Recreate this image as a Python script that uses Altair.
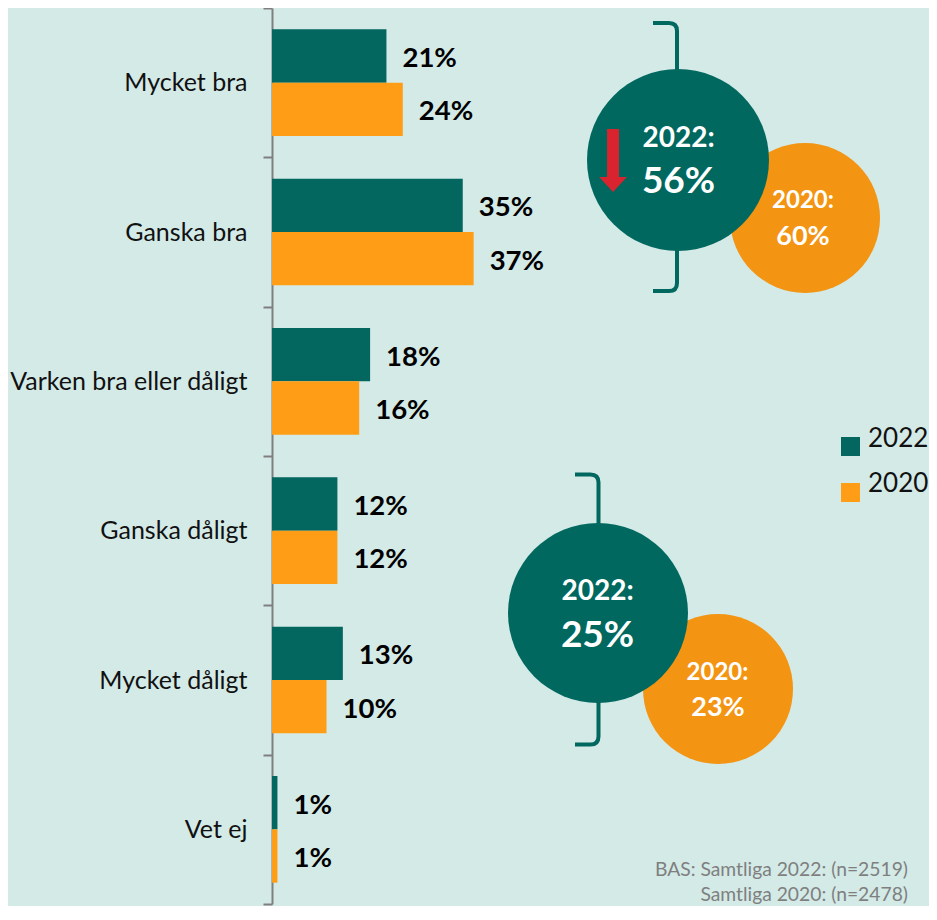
import altair as alt
import pandas as pd

# ---------------- data ----------------
categories = ["Mycket bra", "Ganska bra", "Varken bra eller dåligt",
              "Ganska dåligt", "Mycket dåligt", "Vet ej"]
years = ["2022", "2020"]
values_2022 = [21, 35, 18, 12, 13, 1]
values_2020 = [24, 37, 16, 12, 10, 1]
good_share = [56, 60]      # Mycket + Ganska bra: 2022, 2020
bad_share = [25, 23]       # Ganska + Mycket dåligt: 2022, 2020
footnote_lines = ["BAS: Samtliga 2022: (n=2519)", "Samtliga 2020: (n=2478)"]

# ---------------- styles ----------------
TEAL = "#03665f"
TEAL_C = "#00685f"
ORANGE = "#ff9e16"
ORANGE_C = "#f39412"
RED = "#d9232e"
BG = "#d3eae7"
FONT = "Lato"

rows = []
for c, a, b in zip(categories, values_2022, values_2020):
    rows.append({"cat": c, "year": years[0], "val": a})
    rows.append({"cat": c, "year": years[1], "val": b})
df = pd.DataFrame(rows)
df["label"] = df["val"].astype(str) + "%"

OX, OY = 272, 8  # plot origin on the page
PLOT_W = 657
PX_PER_PCT = 5.45


def px(x):
    return x - OX


def py(y):
    return y - OY


dummy = pd.DataFrame({"k": [0]})

y_enc = alt.Y(
    "cat:N", sort=categories,
    scale=alt.Scale(paddingInner=0, paddingOuter=0),
    axis=alt.Axis(title=None, domainColor="#7f7f7f", domainWidth=2,
                  tickColor="#7f7f7f", tickWidth=2, tickSize=9, tickBand="extent",
                  labelFont=FONT, labelFontSize=25, labelColor="#111111",
                  labelPadding=16, labelLimit=400, grid=False),
)
yoff = alt.YOffset("year:N", sort=years, scale=alt.Scale(paddingInner=0, paddingOuter=0.4))
x_enc = alt.X("val:Q", scale=alt.Scale(domain=[0, PLOT_W / PX_PER_PCT], nice=False, zero=True),
              axis=None)
color = alt.Color("year:N", scale=alt.Scale(domain=years, range=[TEAL, ORANGE]), legend=None)

base = alt.Chart(df).encode(y=y_enc, yOffset=yoff, x=x_enc)
bars = base.mark_bar().encode(color=color)
labels = base.mark_text(align="left", baseline="middle", dx=16, dy=3, font=FONT,
                        fontSize=27.5, fontWeight="bold", color="#000000").encode(text="label:N")


def note(text, x, y, size, col, weight="bold", align="center"):
    return alt.Chart(dummy).mark_text(
        text=text, font=FONT, fontSize=size, fontWeight=weight, color=col,
        align=align, baseline="alphabetic"
    ).encode(x=alt.value(px(x)), y=alt.value(py(y)))


def disc(x, y, r, col):
    # Vega circle symbol: radius = sqrt(size) / 2
    return alt.Chart(dummy).mark_circle(size=(2 * r) ** 2, color=col, opacity=1).encode(
        x=alt.value(px(x)), y=alt.value(py(y)))


def bracket(x, y_top, y_bot, arm):
    half = (y_bot - y_top) / 2
    a = arm / half
    r = 8 / half
    path = (f"M{-a:.4f},-1L{-r:.4f},-1Q0,-1 0,{-1 + r:.4f}L0,{1 - r:.4f}"
            f"Q0,1 {-r:.4f},1L{-a:.4f},1")
    return alt.Chart(dummy).mark_point(
        shape=path, size=(2 * half) ** 2, filled=False, color=TEAL_C,
        strokeWidth=4, opacity=1
    ).encode(x=alt.value(px(x)), y=alt.value(py((y_top + y_bot) / 2)))


arrow_path = "M-0.19,-1L0.19,-1L0.19,0.52L0.44,0.52L0,1L-0.44,0.52L-0.19,0.52Z"
arrow = alt.Chart(dummy).mark_point(
    shape=arrow_path, size=63 ** 2, filled=True, color=RED, opacity=1, strokeWidth=0
).encode(x=alt.value(px(613)), y=alt.value(py(160.5)))

legend_layers = []
for yr, col, sq_y, txt_y in zip(years, [TEAL, ORANGE], [446.5, 492.5], [447, 492]):
    legend_layers.append(
        alt.Chart(dummy).mark_square(size=361, color=col, opacity=1).encode(
            x=alt.value(px(850.5)), y=alt.value(py(sq_y))))
    legend_layers.append(note(yr, 868, txt_y, 26, "#111111", weight="normal", align="left"))

annotations = [
    # top group (bra)
    bracket(677, 23, 291, 24),
    disc(805, 218, 75, ORANGE_C),
    disc(678, 160, 91, TEAL_C),
    note(f"{years[0]}:", 678.5, 147, 28, "white"),
    note(f"{good_share[0]}%", 678.5, 193, 37, "white"),
    note(f"{years[1]}:", 803, 208, 24, "white"),
    note(f"{good_share[1]}%", 803, 245, 27, "white"),
    arrow,
    # bottom group (dåligt)
    bracket(598.5, 474.5, 744.5, 23.5),
    disc(718, 689, 75, ORANGE_C),
    disc(598, 613, 90, TEAL_C),
    note(f"{years[0]}:", 597.5, 600, 28, "white"),
    note(f"{bad_share[0]}%", 597.5, 647, 37, "white"),
    note(f"{years[1]}:", 717.5, 680, 24, "white"),
    note(f"{bad_share[1]}%", 718, 716, 27, "white"),
    # footnote
    note(footnote_lines[0], 908, 876, 19.3, "#7f7f7f", weight="normal", align="right"),
    note(footnote_lines[1], 908, 901, 19.3, "#7f7f7f", weight="normal", align="right"),
]

chart = alt.layer(bars, labels, *annotations, *legend_layers).properties(
    width=PLOT_W, height=896, background=BG,
    padding={"left": 264, "top": 0, "right": 0, "bottom": 2},
    autosize=alt.AutoSizeParams(type="none"),
).configure_view(stroke=None)

chart.save("out.html", embed_options={"renderer": "svg", "actions": False})
